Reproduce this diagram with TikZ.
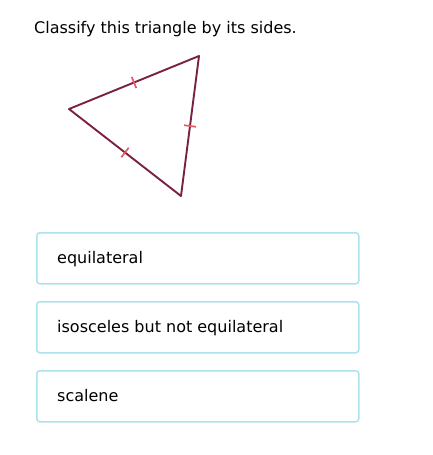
\documentclass[tikz,border=0pt]{standalone}
\usepackage{fontspec}
\setmainfont{DejaVu Sans}
\usetikzlibrary{calc}
\definecolor{tri}{HTML}{7B2045}
\definecolor{tick}{HTML}{E45A62}
\definecolor{boxc}{HTML}{ACE2EC}
\begin{document}
\begin{tikzpicture}[x=1pt,y=-1pt,
  txt/.style={anchor=base west,inner sep=0pt,font=\fontsize{16}{19}\selectfont},
  choice/.style={draw=boxc,line width=1.5pt,rounded corners=3pt,minimum width=322pt,minimum height=51pt,anchor=north west,inner sep=0pt},
  side/.style={draw=tri,line width=1.9pt,line join=round},
  tk/.style={draw=tick,line width=1.7pt}]
\useasboundingbox (0,0) rectangle (432,455);
\node[txt] (q) at (34,33) {Classify this triangle by its sides.};
\coordinate (A) at (199,56);
\coordinate (B) at (69,109);
\coordinate (C) at (181,196);
\draw[side] (A) -- (B) -- (C) -- cycle;
\foreach \p/\q in {A/B,B/C,C/A}{
  \path[tk] ($(\p)!0.5!(\q)!6pt!90:(\q)$) -- ($(\p)!0.5!(\q)!6pt!-90:(\q)$);
}
\node[choice] (c1) at (36,232) {};
\node[choice] (c2) at (36,301) {};
\node[choice] (c3) at (36,370) {};
\node[txt] (t1) at (57,263.5) {equilateral};
\node[txt] (t2) at (57,332.5) {isosceles but not equilateral};
\node[txt] (t3) at (57,401.5) {scalene};
\end{tikzpicture}
\end{document}
